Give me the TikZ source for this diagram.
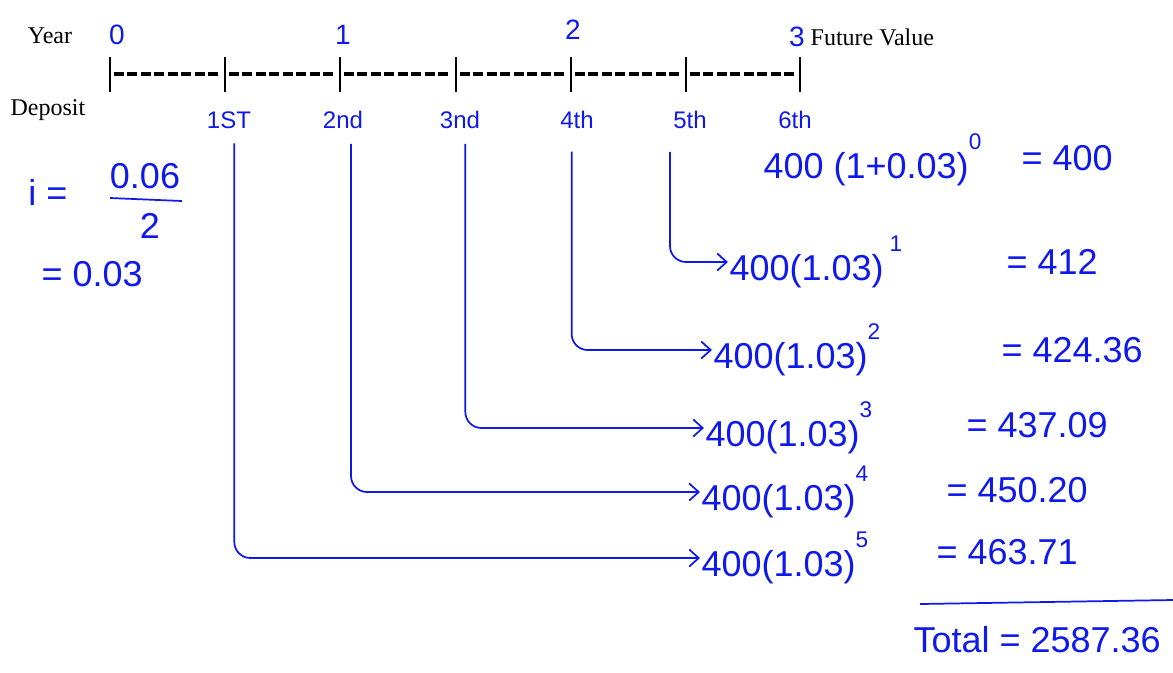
\documentclass[tikz,border=0pt]{standalone}
\usepackage{fontspec}
\setmainfont{Liberation Serif}
\newfontfamily\handfont{Liberation Sans}
\usetikzlibrary{arrows.meta}
\definecolor{ink}{RGB}{15,25,235}

\tikzset{
  typed/.style={font=\fontsize{18}{20}\selectfont},
  hand/.style={text=ink, font=\handfont\fontsize{18}{20}\selectfont, inner sep=1pt},
  big/.style={hand, font=\handfont\fontsize{27}{30}\selectfont},
  eqn/.style={big, anchor=west},
  wire/.style={ink, line width=1.3pt, rounded corners=12pt, -{Straight Barb[length=2.5mm,width=4.5mm]}},
  tickline/.style={line width=1.3pt},
  dashline/.style={line width=2.8pt, dash pattern=on 7.5pt off 2.6pt},
}
\newcommand{\pw}[1]{\raisebox{0.8em}{\fontsize{17}{17}\selectfont #1}}

\begin{document}
\begin{tikzpicture}[x=0.75pt,y=-0.75pt]
  \useasboundingbox (0,0) rectangle (1173,672);

  % time line
  \foreach \x in {110,225,340,456,571,686,800}
    \draw[tickline] (\x,57) -- (\x,92);
  \foreach \x in {110,225,340,456,571,686}
    \draw[dashline] (\x+4,74) -- (\x+111,74);

  \node[typed] (year) at (50,36) {Year};
  \node[typed] (dep) at (48,110) {Deposit};
  \node[typed, anchor=west] (fv) at (806,37) {Future Value};
  \foreach \n/\x/\y in {0/117/35,1/343/35,2/573/30,3/797/37}
    \node[hand, font=\handfont\fontsize{21}{23}\selectfont] (y\n) at (\x,\y) {\n};

  % deposits
  \foreach \n/\x/\t in {1/229/1ST,2/343/2nd,3/460/3nd,4/577/4th,5/690/5th,6/795/6th}
    \node[hand] (d\n) at (\x,120) {\t};

  % future values
  \node[eqn] (e0) at (762,160) {400 (1+0.03)\pw{0}};
  \node[eqn] (v0) at (1020,158) {= 400};
  \node[eqn] (e1) at (728,262) {400(1.03)\,\pw{1}};
  \node[eqn] (v1) at (1005,262) {= 412};
  \node[eqn] (e2) at (712,350) {400(1.03)\pw{2}};
  \node[eqn] (v2) at (1000,350) {= 424.36};
  \node[eqn] (e3) at (704,428) {400(1.03)\pw{3}};
  \node[eqn] (v3) at (965,425) {= 437.09};
  \node[eqn] (e4) at (700,492) {400(1.03)\pw{4}};
  \node[eqn] (v4) at (945,490) {= 450.20};
  \node[eqn] (e5) at (700,558) {400(1.03)\pw{5}};
  \node[eqn] (v5) at (935,552) {= 463.71};

  \draw[wire] ([xshift=4pt,yshift=-10pt]d1.south) |- (e5.west);
  \draw[wire] ([xshift=6pt,yshift=-10pt]d2.south) |- (e4.west);
  \draw[wire] ([xshift=4pt,yshift=-10pt]d3.south) |- (e3.west);
  \draw[wire] ([xshift=-4pt,yshift=-16pt]d4.south) |- (e2.west);
  \draw[wire] ([xshift=-15pt,yshift=-16pt]d5.south) |- (e1.west);

  % total
  \draw[ink, line width=1.3pt] (920,604) -- (1173,600);
  \node[eqn] (tot) at (912,640) {Total = 2587.36};

  % rate
  \node[big] (rate) at (48,192) {i =};
  \node[big] (num) at (145,176) {0.06};
  \node[big] (den) at (150,226) {2};
  \draw[ink, line width=1.3pt] (110,198) -- (182,201);
  \node[eqn] (rval) at (40,274) {= 0.03};
\end{tikzpicture}
\end{document}
